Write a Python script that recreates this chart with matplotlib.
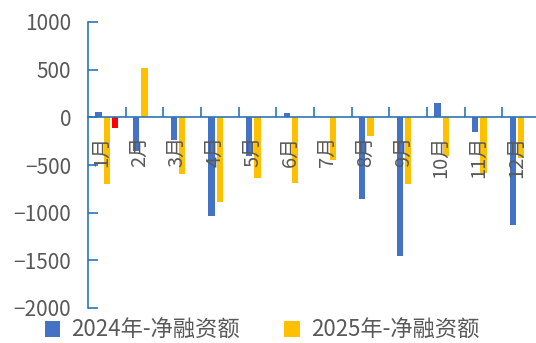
import numpy as np
import matplotlib.pyplot as plt
from matplotlib.ticker import FixedLocator
from matplotlib.transforms import ScaledTranslation

plt.rcParams['font.family'] = ['Noto Sans CJK SC', 'DejaVu Sans']

months = ['1月', '2月', '3月', '4月', '5月', '6月',
          '7月', '8月', '9月', '10月', '11月', '12月']
net_2024 = [60, -350, -240, -1040, -410, 45, 0, -860, -1455, 155, -155, -1130]
net_2025 = [-700, 520, -595, -885, -640, -685, -445, -200, -700, -410, -585, -430]
extra_2025 = [-110] + [np.nan] * 11

axis_col = '#2E75B6'
text_col = '#595959'

fig = plt.figure(figsize=(5.36, 3.43), dpi=100)
ax = fig.add_axes([88/536, 35/343, 452/536, 286/343])

x = np.arange(len(months))
w = 0.17
off = 0.22
ax.bar(x - off, net_2024, w, color='#4472C4', label='2024年-净融资额')
ax.bar(x, net_2025, w, color='#FFC000', label='2025年-净融资额')
ax.bar(x + off, extra_2025, w, color='#FF0000')

ax.set_xlim(-0.5, len(months) - 0.5)
ax.set_ylim(-2000, 1000)
ax.set_yticks(np.arange(-2000, 1001, 500))

for s in ['top', 'right']:
    ax.spines[s].set_visible(False)
ax.spines['bottom'].set_position(('data', 0))
for s in ['left', 'bottom']:
    ax.spines[s].set_color(axis_col)
    ax.spines[s].set_linewidth(1.2)

ax.tick_params(axis='y', direction='in', length=7, width=1.2, color=axis_col,
               labelcolor=text_col, labelsize=15, pad=12)

# month names under the zero line, separators at group edges
ax.set_xticks(x)
ax.set_xticklabels(months, rotation=90)
ax.xaxis.set_minor_locator(FixedLocator(x[:-1] + 0.5))
ax.tick_params(axis='x', which='major', length=0, pad=13,
               labelcolor=text_col, labelsize=14.5)
ax.tick_params(axis='x', which='minor', direction='in', length=7, width=1.2,
               color=axis_col)
shift = ScaledTranslation(-5/100, 0, fig.dpi_scale_trans)
for lab in ax.get_xticklabels():
    lab.set_transform(lab.get_transform() + shift)

handles, labels = ax.get_legend_handles_labels()
fig.legend(handles, labels, loc='center', bbox_to_anchor=(262/536, 13/343),
           ncol=2, frameon=False, fontsize=16, labelcolor=text_col,
           handlelength=0.7, handleheight=0.7, handletextpad=0.5,
           columnspacing=2.0, borderpad=0)

fig.savefig('out.png', dpi=100)
